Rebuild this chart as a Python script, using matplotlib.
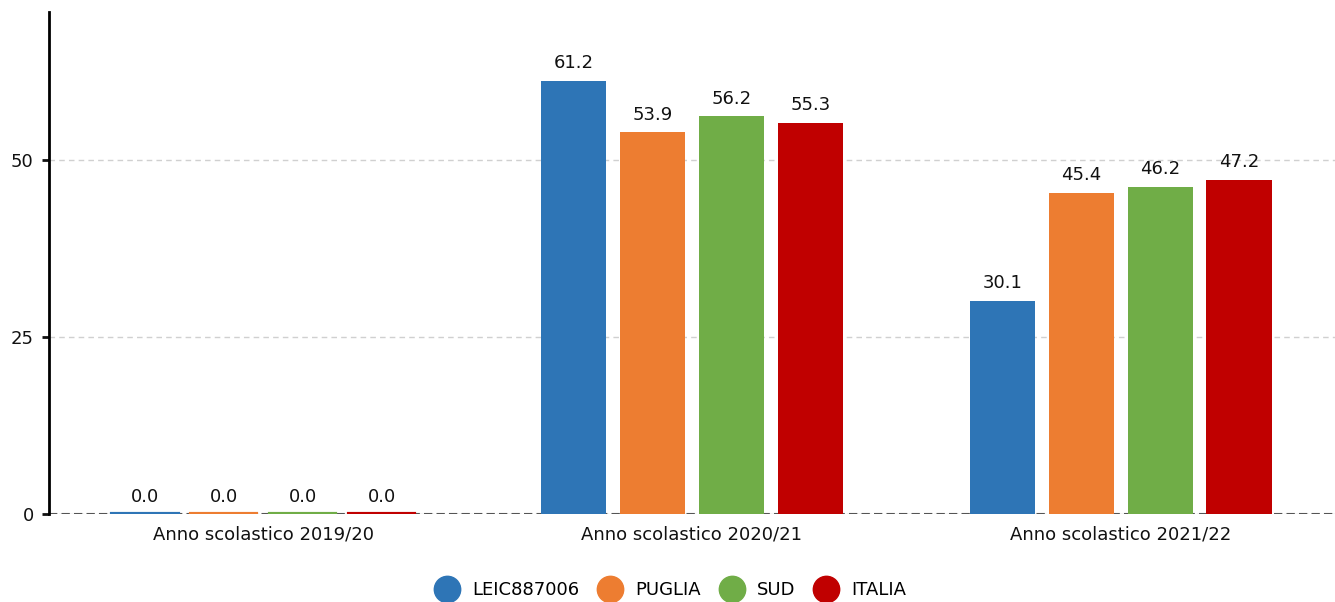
import matplotlib
matplotlib.use("Agg")
import matplotlib.pyplot as plt
from matplotlib.lines import Line2D
import numpy as np

# dati
categorie = ["Anno scolastico 2019/20", "Anno scolastico 2020/21", "Anno scolastico 2021/22"]
serie = ["LEIC887006", "PUGLIA", "SUD", "ITALIA"]
leic = [0.0, 61.2, 30.1]
puglia = [0.0, 53.9, 45.4]
sud = [0.0, 56.2, 46.2]
italia = [0.0, 55.3, 47.2]
valori = [leic, puglia, sud, italia]
colori = ["#2e75b6", "#ed7d31", "#70ad47", "#c00000"]

plt.rcParams['font.family'] = ['DejaVu Sans']

fig = plt.figure(figsize=(13.35, 6.02), dpi=100, facecolor='white')
ax = fig.add_axes([0.0367, 0.146, 0.9633, 0.834])

x = np.arange(len(categorie))
passo = 0.184
larghezza = 0.152
for i, (nome, vals, col) in enumerate(zip(serie, valori, colori)):
    pos = x + (i - 1.5) * passo
    ax.bar(pos, vals, width=larghezza, color=col, zorder=3)
    # barre a zero: linea sottile colorata
    for p, v in zip(pos, vals):
        if v == 0:
            ax.plot([p - larghezza / 2, p + larghezza / 2], [0, 0], color=col, lw=3, zorder=4)
        ax.text(p, v + 1.2, f"{v:.1f}", ha='center', va='bottom', fontsize=13, color='#111111')

ax.set_xlim(-0.5, 2.5)
ax.set_ylim(0, 70.9)
ax.set_yticks([0, 25, 50])
ax.set_xticks(x)
ax.set_xticklabels(categorie)
ax.tick_params(axis='x', length=0, labelsize=13, pad=8, colors='#111111')
ax.tick_params(axis='y', length=5, width=2, labelsize=13, colors='#111111', pad=6)

ax.grid(axis='y', linestyle=(0, (4, 3)), color='#d0d0d0', linewidth=1, zorder=0)
ax.axhline(0, color='#555555', linestyle=(0, (4, 2)), linewidth=1.5, zorder=2)

for s in ['top', 'right', 'bottom']:
    ax.spines[s].set_visible(False)
ax.spines['left'].set_linewidth(2)
ax.spines['left'].set_color('black')

handles = [Line2D([], [], marker='o', linestyle='', markersize=19, color=c) for c in colori]
fig.legend(handles, serie, loc='center', bbox_to_anchor=(0.5, 0.02), ncol=4, frameon=False,
           fontsize=13, handletextpad=0.4, columnspacing=0.7)

fig.savefig("out.png", dpi=100)
